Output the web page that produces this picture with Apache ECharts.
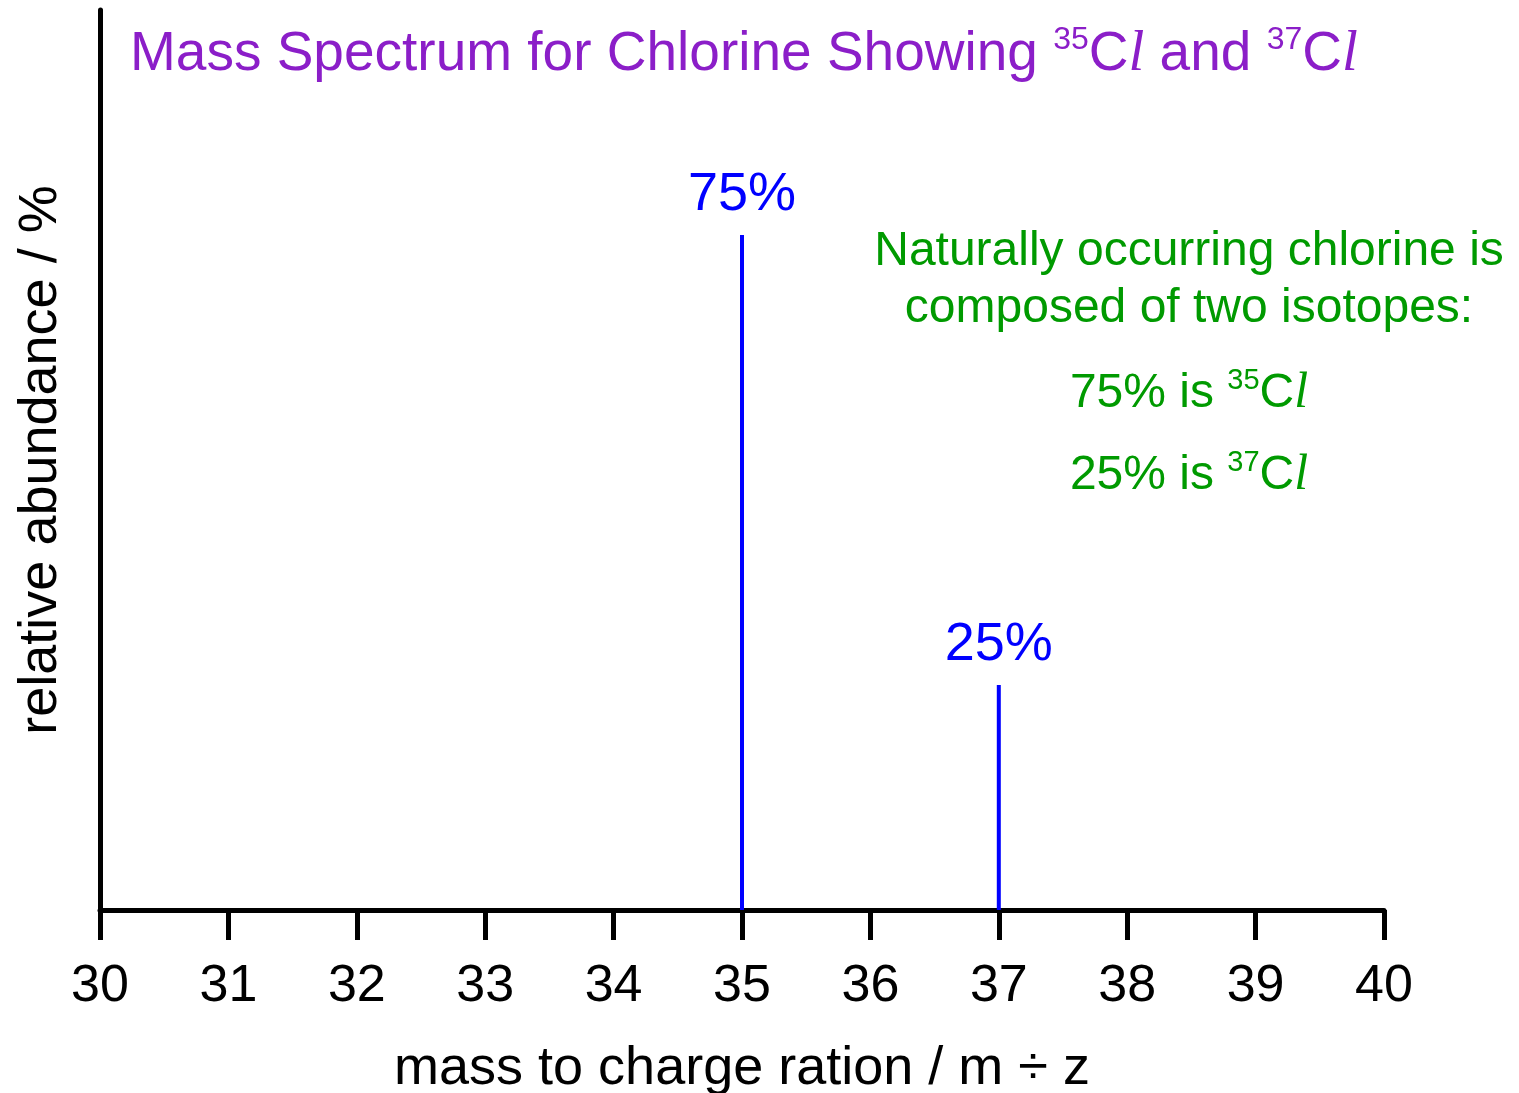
<!DOCTYPE html>
<html>
<head>
<meta charset="utf-8">
<title>Mass Spectrum for Chlorine</title>
<script src="https://cdn.jsdelivr.net/npm/echarts@6/dist/echarts.min.js"></script>
<style>
  html, body { margin: 0; padding: 0; background: #ffffff; }
  #chart { width: 1519px; height: 1093px; }
</style>
</head>
<body>
<div id="chart"></div>
<script>
// Isotope peaks: mass-to-charge ratio and relative abundance (%)
const massNumbers = [35, 37];
const abundances = [75, 25];
const peakLabels = ['75%', '25%'];
const xTicks = [30, 31, 32, 33, 34, 35, 36, 37, 38, 39, 40];

const FONT = 'Liberation Sans, Arial, Helvetica, sans-serif';
const SERIF = 'Liberation Serif, Times New Roman, serif';
const PURPLE = '#8B1EC8';
const GREEN = '#009A00';
const BLUE = '#0000FF';

const chart = echarts.init(document.getElementById('chart'), null, { renderer: 'canvas' });

// Superscript mass number and italic "l" for the chlorine symbol
function isotopeRich(color, size, supSize) {
  return {
    sup: { fontFamily: FONT, fontSize: supSize, color: color, verticalAlign: 'top', lineHeight: supSize + 4 },
    it: { fontFamily: SERIF, fontStyle: 'italic', fontSize: size + 2, color: color }
  };
}

const option = {
  backgroundColor: '#ffffff',
  animation: false,
  title: [
    {
      text: 'Mass Spectrum for Chlorine Showing {sup|35}C{it|l} and {sup|37}C{it|l}',
      left: 130,
      top: 24,
      padding: 0,
      textStyle: {
        fontFamily: FONT, fontWeight: 'normal', fontSize: 55, lineHeight: 62, color: PURPLE,
        rich: isotopeRich(PURPLE, 55, 32)
      }
    },
    {
      text: 'Naturally occurring chlorine is\ncomposed of two isotopes:',
      left: 1189,
      top: 223,
      padding: 0,
      textAlign: 'center',
      textStyle: { fontFamily: FONT, fontWeight: 'normal', fontSize: 48, lineHeight: 57, color: GREEN }
    },
    {
      text: '75% is {sup|35}C{it|l}',
      left: 1189,
      top: 366,
      padding: 0,
      textAlign: 'center',
      textStyle: {
        fontFamily: FONT, fontWeight: 'normal', fontSize: 48, lineHeight: 56, color: GREEN,
        rich: isotopeRich(GREEN, 48, 29)
      }
    },
    {
      text: '25% is {sup|37}C{it|l}',
      left: 1189,
      top: 448,
      padding: 0,
      textAlign: 'center',
      textStyle: {
        fontFamily: FONT, fontWeight: 'normal', fontSize: 48, lineHeight: 56, color: GREEN,
        rich: isotopeRich(GREEN, 48, 29)
      }
    }
  ],
  grid: { left: 100, right: 135, top: 10, bottom: 183, containLabel: false, outerBoundsMode: 'none' },
  xAxis: {
    type: 'value',
    min: xTicks[0],
    max: xTicks[xTicks.length - 1],
    interval: 1,
    name: 'mass to charge ration / m \u00F7 z',
    nameLocation: 'middle',
    nameGap: 132,
    nameTextStyle: { fontFamily: FONT, fontSize: 54, color: '#000' },
    axisLine: { show: true, lineStyle: { color: '#000', width: 5 } },
    axisTick: { show: true, length: 30, inside: false, lineStyle: { color: '#000', width: 5 } },
    axisLabel: { show: true, margin: 51, fontFamily: FONT, fontSize: 52, color: '#000' },
    splitLine: { show: false }
  },
  yAxis: {
    type: 'value',
    min: 0,
    max: 100,
    name: 'relative abundance / %',
    nameLocation: 'middle',
    nameGap: 32,
    nameTextStyle: { fontFamily: FONT, fontSize: 54, color: '#000' },
    axisLine: { show: true, lineStyle: { color: '#000', width: 5 } },
    axisTick: { show: false },
    axisLabel: { show: false },
    splitLine: { show: false }
  },
  series: [
    {
      type: 'bar',
      barWidth: 4,
      itemStyle: { color: BLUE },
      label: {
        show: true,
        position: 'top',
        distance: 13,
        fontFamily: FONT,
        fontSize: 54,
        color: BLUE,
        formatter: function (p) { return peakLabels[p.dataIndex]; }
      },
      data: massNumbers.map(function (m, i) { return [m, abundances[i]]; })
    }
  ]
};

chart.setOption(option);
</script>
</body>
</html>
